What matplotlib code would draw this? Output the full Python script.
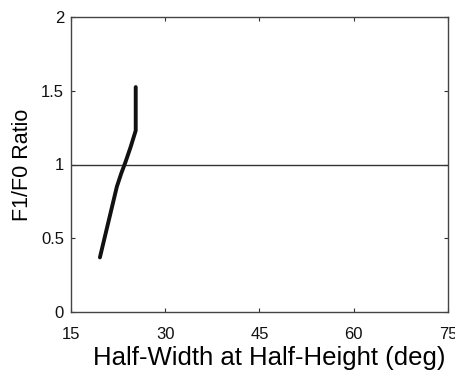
import matplotlib.pyplot as plt

# Half-width (deg) vs F1/F0 ratio
hwhh = [19.6, 20.5, 21.4, 22.3, 23.0, 23.7, 24.5, 25.3, 25.3, 25.3]
ratio = [0.37, 0.53, 0.69, 0.85, 0.94, 1.02, 1.12, 1.23, 1.38, 1.525]
ref_level = 1.0

plt.rcParams['font.family'] = ['Liberation Sans', 'DejaVu Sans']

fig = plt.figure(figsize=(4.56, 3.73), dpi=100)
ax = fig.add_axes([71/456, 1 - 312/373, 377/456, 295/373])

ax.axhline(ref_level, color='#333333', lw=1.0)
ax.plot(hwhh, ratio, color='#111111', lw=2.8, solid_capstyle='round')

ax.set_xlim(15, 75)
ax.set_ylim(0, 2)
ax.set_xticks([15, 30, 45, 60, 75])
ax.set_yticks([0, 0.5, 1, 1.5, 2])
ax.set_yticklabels(['0', '0.5', '1', '1.5', '2'])
ax.tick_params(direction='in', top=True, right=True, length=3, width=0.8,
               labelsize=12, colors='#333333', labelcolor='#111111')
ax.tick_params(axis='x', pad=11)
ax.tick_params(axis='y', pad=5)
for s in ax.spines.values():
    s.set_color('#444444')
    s.set_linewidth(1.0)

ax.set_xlabel('Half-Width at Half-Height (deg)', fontsize=18.5)
ax.xaxis.set_label_coords(0.525, -0.115)
ax.set_ylabel('F1/F0 Ratio', fontsize=15.5, labelpad=6)

fig.savefig('out.png', dpi=100)
